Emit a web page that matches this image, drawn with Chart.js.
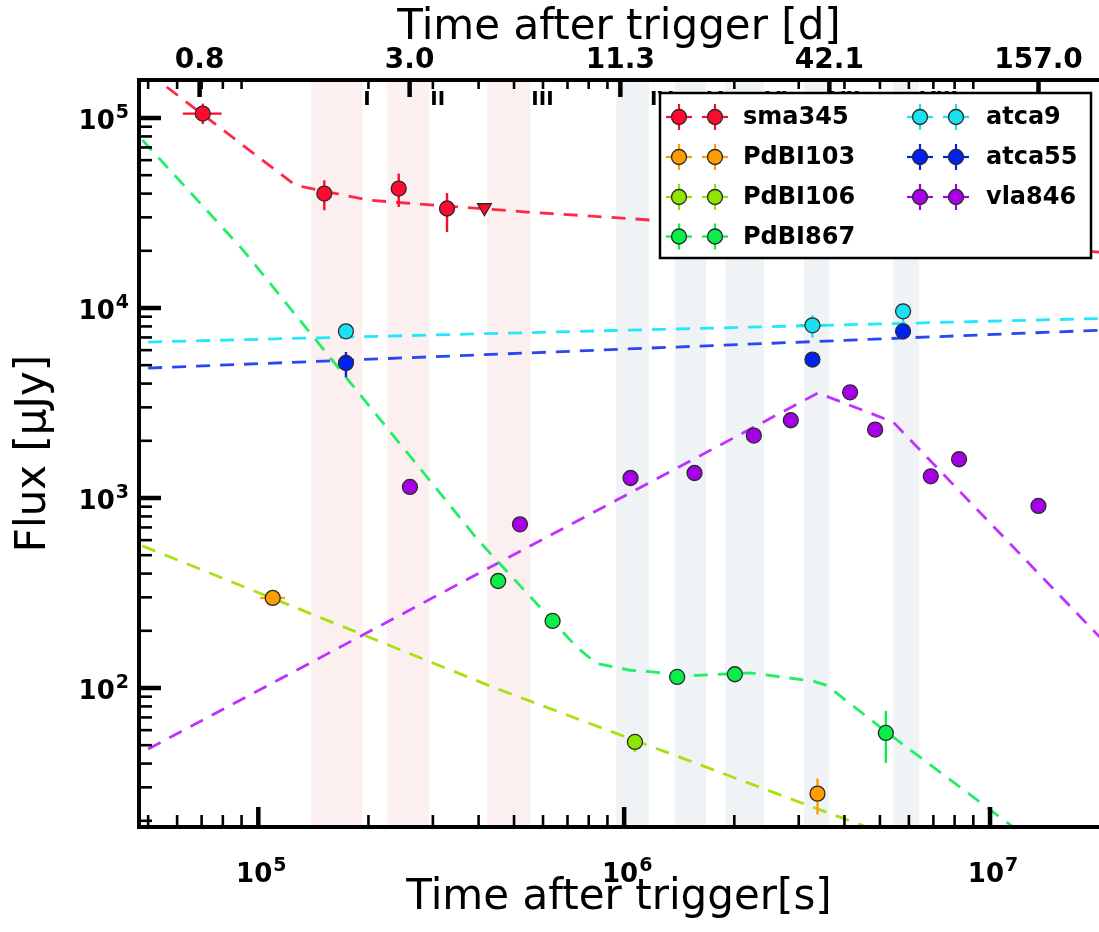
<!DOCTYPE html>
<html><head><meta charset="utf-8">
<script src="https://cdn.jsdelivr.net/npm/chart.js@4.4.1/dist/chart.umd.min.js"></script>
<style>html,body{margin:0;padding:0;background:#fff;}canvas{display:block;}</style>
</head><body>
<canvas id="c" width="1099" height="932"></canvas>
<script>
// ---------- axis ranges & ticks ----------
const X_MIN = 4.72e4, X_MAX = 1.985e7;
const Y_MIN = 18.55, Y_MAX = 1.585e5;
const xTickValues = [1e5, 1e6, 1e7];
const xTickBase = ['10', '10', '10'];
const xTickExp  = ['5', '6', '7'];
const yTickValues = [1e2, 1e3, 1e4, 1e5];
const yTickBase = ['10', '10', '10', '10'];
const yTickExp  = ['2', '3', '4', '5'];
const topTickDays = [0.8, 3.0, 11.3, 42.1, 157.0];
const topTickLabels = ['0.8', '3.0', '11.3', '42.1', '157.0'];
const minorMultipliers = [2, 3, 4, 5, 6, 7, 8, 9];
const minorDecadesX = [1e4, 1e5, 1e6, 1e7];
const minorDecadesY = [1, 10, 100, 1000, 1e4, 1e5];

// ---------- epochs (shaded bands, seconds) ----------
const pinkBandStart = [1.396e5, 2.252e5, 4.224e5];
const pinkBandEnd   = [1.924e5, 2.933e5, 5.537e5];
const grayBandStart = [9.51e5, 1.378e6, 1.888e6, 3.103e6, 5.43e6];
const grayBandEnd   = [1.170e6, 1.675e6, 2.413e6, 3.632e6, 6.40e6];
const epochLabels = ['I', 'II', 'III', 'IV', 'V', 'VI', 'VII', 'VIII'];

// ---------- series ----------
const seriesNames = ['sma345', 'PdBI103', 'PdBI106', 'PdBI867', 'atca9', 'atca55', 'vla846'];
const seriesColors = ['#ff0a2e', '#ff9d00', '#8ee600', '#0aee4a', '#1ae0f0', '#0022f0', '#a600e8'];
const modelColors  = ['#ff2848', '#ff9d00', '#a8e010', '#22ee66', '#22e8ff', '#2a48f0', '#c030ff'];

// sma345
const sma345Time = [7.05e4, 1.515e5, 2.42e5, 3.28e5];
const sma345Flux = [1.055e5, 4.0e4, 4.25e4, 3.34e4];
const sma345FluxErr = [[9.3e4, 1.19e5], [3.27e4, 4.7e4], [3.4e4, 5.1e4], [2.51e4, 4.03e4]];
const sma345TimeErr = [[6.22e4, 7.94e4], null, null, null];
const sma345LimitTime = [4.15e5];
const sma345LimitFlux = [3.37e4];
const sma345ModelTime = [5.62e4, 1.246e5, 1.327e5, 2.02e5, 5.41e5, 1.037e6, 1.98e7, 2.3e7];
const sma345ModelFlux = [1.456e5, 4.515e4, 4.334e4, 3.688e4, 3.2e4, 2.955e4, 1.97e4, 1.93e4];

// PdBI103
const pdbi103Time = [1.095e5, 3.376e6];
const pdbi103Flux = [297.7, 27.8];
const pdbi103FluxErr = [null, [21.6, 33.4]];
const pdbi103TimeErr = [[1.011e5, 1.183e5], null];

// PdBI106
const pdbi106Time = [1.07e6];
const pdbi106Flux = [52];
const pdbi106FluxErr = [[46, 57]];
const pdbi106ModelTime = [4.19e4, 1.099e5, 4.48e5, 1.07e6, 3.355e6, 5.67e6];
const pdbi106ModelFlux = [624, 295.4, 99.3, 53, 23.2, 16.0];

// PdBI867
const pdbi867Time = [4.525e5, 6.373e5, 1.396e6, 2.007e6, 5.19e6];
const pdbi867Flux = [365.8, 225.3, 114.3, 118.1, 58.0];
const pdbi867FluxErr = [null, null, null, null, [40.3, 75.7]];
const pdbi867ModelTime = [3.93e4, 9.1e4, 1.936e5, 3.992e5, 6.373e5, 7.413e5, 8.405e5, 1.037e6, 1.577e6, 2.205e6, 3.283e6, 3.573e6, 5.21e6, 1.063e7, 1.367e7];
const pdbi867ModelFlux = [1.178e5, 2.012e4, 3336, 599, 225.3, 164.4, 134.4, 124, 116.6, 120, 108.8, 103.3, 58.7, 20.95, 14.6];

// atca9
const atca9Time = [1.736e5, 3.27e6, 5.785e6];
const atca9Flux = [7541, 8109, 9607];
const atca9FluxErr = [null, [6986, 9155], [8440, 10540]];
const atca9TimeErr = [null, [3.016e6, 3.568e6], null];
const atca9ModelTime = [5.0e4, 2.262e7];
const atca9ModelFlux = [6620, 8859];

// atca55
const atca55Time = [1.736e5, 3.27e6, 5.785e6];
const atca55Flux = [5134, 5350, 7541];
const atca55FluxErr = [[4334, 5866], [4893, 5850], [6900, 8280]];
const atca55ModelTime = [5.0e4, 2.262e7];
const atca55ModelFlux = [4829, 7716];

// vla846
const vla846Time = [2.597e5, 5.19e5, 1.041e6, 1.557e6, 2.261e6, 2.854e6, 4.145e6, 4.852e6, 6.887e6, 8.228e6, 1.356e7];
const vla846Flux = [1143, 727, 1274, 1354, 2130, 2565, 3600, 2291, 1301, 1599, 908];
const vla846ModelTime = [5.0e4, 3.388e6, 5.433e6, 1.953e7, 2.26e7];
const vla846ModelFlux = [47.7, 3570, 2512, 193.3, 144];

// ---------- helpers ----------
const FONT = "'DejaVu Sans', 'Liberation Sans', sans-serif";
const pts = (xs, ys) => xs.map((x, i) => ({x: x, y: ys[i]}));

function pointSet(idx, xs, ys, errY, errX) {
  return {
    label: seriesNames[idx], data: pts(xs, ys), showLine: false,
    backgroundColor: seriesColors[idx], borderColor: '#2a2a2a', borderWidth: 1.3,
    pointRadius: 7.5, pointHoverRadius: 7.5, order: 1,
    errY: errY || null, errX: errX || null, errColor: seriesColors[idx]
  };
}
function modelSet(idx, xs, ys) {
  return {
    label: seriesNames[idx] + ' model', data: pts(xs, ys), showLine: true,
    borderColor: modelColors[idx], borderWidth: 2.8, borderDash: [14, 10],
    pointRadius: 0, pointHoverRadius: 0, fill: false, tension: 0, order: 3
  };
}

const datasets = [
  pointSet(0, sma345Time, sma345Flux, sma345FluxErr, sma345TimeErr),
  Object.assign(pointSet(0, sma345LimitTime, sma345LimitFlux), {pointStyle: 'triangle', rotation: 180, pointRadius: 8}),
  pointSet(1, pdbi103Time, pdbi103Flux, pdbi103FluxErr, pdbi103TimeErr),
  pointSet(2, pdbi106Time, pdbi106Flux, pdbi106FluxErr),
  pointSet(3, pdbi867Time, pdbi867Flux, pdbi867FluxErr),
  pointSet(4, atca9Time, atca9Flux, atca9FluxErr, atca9TimeErr),
  pointSet(5, atca55Time, atca55Flux, atca55FluxErr),
  pointSet(6, vla846Time, vla846Flux),
  modelSet(0, sma345ModelTime, sma345ModelFlux),
  modelSet(2, pdbi106ModelTime, pdbi106ModelFlux),
  modelSet(3, pdbi867ModelTime, pdbi867ModelFlux),
  modelSet(4, atca9ModelTime, atca9ModelFlux),
  modelSet(5, atca55ModelTime, atca55ModelFlux),
  modelSet(6, vla846ModelTime, vla846ModelFlux)
];

function line(ctx, x1, y1, x2, y2) { ctx.beginPath(); ctx.moveTo(x1, y1); ctx.lineTo(x2, y2); ctx.stroke(); }

function minorValues(decades) {
  const out = [];
  decades.forEach(d => minorMultipliers.forEach(m => out.push(m * d)));
  return out;
}

const BASE_FONT = 'bold 26px ' + FONT;
const EXP_FONT = 'bold 19px ' + FONT;
// draws "10" with a raised exponent; anchor: 'right' (x = right edge) or 'center'
function drawPower(ctx, base, exp, x, baselineY, anchor) {
  ctx.font = BASE_FONT; const wb = ctx.measureText(base).width;
  ctx.font = EXP_FONT; const we = ctx.measureText(exp).width;
  const total = wb + 1 + we;
  const x0 = anchor === 'right' ? x - total : x - total / 2;
  ctx.textAlign = 'left'; ctx.textBaseline = 'alphabetic';
  ctx.font = BASE_FONT; ctx.fillText(base, x0, baselineY);
  ctx.font = EXP_FONT; ctx.fillText(exp, x0 + wb + 1, baselineY - 11);
}

const framePlugin = {
  id: 'frame',
  beforeDatasetsDraw(chart) {
    const {ctx, chartArea: a} = chart;
    const xs = chart.scales.x;
    ctx.save();
    ctx.fillStyle = '#fcefef';
    pinkBandStart.forEach((s, i) => {
      const p1 = xs.getPixelForValue(s), p2 = xs.getPixelForValue(pinkBandEnd[i]);
      ctx.fillRect(p1, a.top, p2 - p1, a.bottom - a.top);
    });
    ctx.fillStyle = '#eff3f5';
    grayBandStart.forEach((s, i) => {
      const p1 = xs.getPixelForValue(s), p2 = xs.getPixelForValue(grayBandEnd[i]);
      ctx.fillRect(p1, a.top, p2 - p1, a.bottom - a.top);
    });
    ctx.restore();
  },
  beforeDatasetDraw(chart, args) {
    const ds = chart.data.datasets[args.index];
    if (!ds.errY && !ds.errX) return;
    const {ctx, chartArea: a} = chart;
    const xs = chart.scales.x, ys = chart.scales.y;
    ctx.save();
    ctx.beginPath(); ctx.rect(a.left, a.top, a.right - a.left, a.bottom - a.top); ctx.clip();
    ctx.strokeStyle = ds.errColor; ctx.lineWidth = 2.4;
    ds.data.forEach((p, i) => {
      const px = xs.getPixelForValue(p.x), py = ys.getPixelForValue(p.y);
      const ey = ds.errY && ds.errY[i];
      if (ey) line(ctx, px, ys.getPixelForValue(ey[0]), px, ys.getPixelForValue(ey[1]));
      const ex = ds.errX && ds.errX[i];
      if (ex) line(ctx, xs.getPixelForValue(ex[0]), py, xs.getPixelForValue(ex[1]), py);
    });
    ctx.restore();
  },
  afterDatasetsDraw(chart) {
    const {ctx, chartArea: a} = chart;
    const xs = chart.scales.x, ys = chart.scales.y;
    ctx.save();
    ctx.strokeStyle = '#000';
    ctx.lineCap = 'butt';
    const inX = v => v >= X_MIN && v <= X_MAX;
    const inY = v => v >= Y_MIN && v <= Y_MAX;
    // bottom ticks
    ctx.lineWidth = 4.5;
    xTickValues.filter(inX).forEach(v => { const p = xs.getPixelForValue(v); line(ctx, p, a.bottom, p, a.bottom - 20); });
    ctx.lineWidth = 2.6;
    minorValues(minorDecadesX).filter(inX).forEach(v => { const p = xs.getPixelForValue(v); line(ctx, p, a.bottom, p, a.bottom - 12); });
    // top ticks (day axis)
    ctx.lineWidth = 4.5;
    topTickDays.map(d => d * 86400).filter(inX).forEach(v => { const p = xs.getPixelForValue(v); line(ctx, p, a.top, p, a.top + 17); });
    ctx.lineWidth = 2.6;
    minorValues(minorDecadesX).filter(inX).forEach(v => { const p = xs.getPixelForValue(v); line(ctx, p, a.top, p, a.top + 9); });
    // left ticks
    ctx.lineWidth = 4.5;
    yTickValues.filter(inY).forEach(v => { const p = ys.getPixelForValue(v); line(ctx, a.left, p, a.left + 22, p); });
    ctx.lineWidth = 2.6;
    minorValues(minorDecadesY).filter(inY).forEach(v => { const p = ys.getPixelForValue(v); line(ctx, a.left, p, a.left + 13, p); });
    // spines
    ctx.lineWidth = 4;
    ctx.lineCap = 'square';
    line(ctx, a.left, a.top, a.right + 5, a.top);
    line(ctx, a.left, a.top, a.left, a.bottom);
    line(ctx, a.left, a.bottom, a.right + 5, a.bottom);
    // tick labels (power-of-ten)
    ctx.fillStyle = '#000';
    xTickValues.forEach((v, i) => drawPower(ctx, xTickBase[i], xTickExp[i], xs.getPixelForValue(v) + 3, a.bottom + 55, 'center'));
    yTickValues.forEach((v, i) => drawPower(ctx, yTickBase[i], yTickExp[i], a.left - 10, ys.getPixelForValue(v) + 11, 'right'));
    // epoch labels
    ctx.font = 'bold 20px ' + FONT;
    ctx.textAlign = 'left'; ctx.textBaseline = 'alphabetic';
    const ends = pinkBandEnd.concat(grayBandEnd);
    epochLabels.forEach((t, i) => { ctx.fillText(t, xs.getPixelForValue(ends[i]) + 1, a.top + 25); });
    ctx.restore();
  },
  afterDraw(chart) {
    const {ctx} = chart;
    ctx.save();
    const bx = 660, by = 93, bw = 431, bh = 165;
    ctx.fillStyle = '#fff';
    ctx.fillRect(bx, by, bw, bh);
    ctx.strokeStyle = '#000'; ctx.lineWidth = 2.5;
    ctx.strokeRect(bx, by, bw, bh);
    const cols = [{m1: 679, m2: 715, tx: 743}, {m1: 920, m2: 956, tx: 986}];
    const rowY = [117, 157, 197, 236.5];
    ctx.font = 'bold 24px ' + FONT;
    ctx.textBaseline = 'middle'; ctx.textAlign = 'left';
    seriesNames.forEach((name, i) => {
      const c = cols[i < 4 ? 0 : 1];
      const y = rowY[i < 4 ? i : i - 4];
      [c.m1, c.m2].forEach(mx => {
        ctx.strokeStyle = seriesColors[i]; ctx.lineWidth = 2.2;
        line(ctx, mx - 13, y, mx + 13, y);
        line(ctx, mx, y - 13, mx, y + 13);
        ctx.beginPath(); ctx.arc(mx, y, 7.5, 0, Math.PI * 2);
        ctx.fillStyle = seriesColors[i]; ctx.fill();
        ctx.strokeStyle = '#2a2a2a'; ctx.lineWidth = 1.3; ctx.stroke();
      });
      ctx.fillStyle = '#000';
      ctx.fillText(name, c.tx, y + 1);
    });
    ctx.restore();
  }
};

new Chart(document.getElementById('c'), {
  type: 'scatter',
  data: {datasets: datasets},
  options: {
    responsive: false, animation: false, devicePixelRatio: 1,
    layout: {padding: 0, autoPadding: false},
    plugins: {legend: {display: false}, tooltip: {enabled: false}},
    scales: {
      x: {
        type: 'logarithmic', position: 'bottom', min: X_MIN, max: X_MAX,
        grid: {display: false, drawTicks: false}, border: {display: false},
        ticks: {display: false},
        title: {display: true, text: 'Time after trigger[s]', color: '#000',
                font: {family: FONT, size: 42}, padding: {top: 0, bottom: 9}},
        afterBuildTicks: s => { s.ticks = xTickValues.map(v => ({value: v})); },
        afterFit: s => { s.height = 105; s.paddingLeft = 0; s.paddingRight = 0; }
      },
      x2: {
        type: 'logarithmic', position: 'top', min: X_MIN, max: X_MAX,
        grid: {display: false, drawTicks: false}, border: {display: false},
        ticks: {font: {family: FONT, size: 28, weight: 'bold'}, color: '#000', padding: 2, maxRotation: 0, autoSkip: false,
                callback: (v, i) => topTickLabels[i]},
        title: {display: true, text: 'Time after trigger [d]', color: '#000',
                font: {family: FONT, size: 42}, padding: {top: 3, bottom: 0}},
        afterBuildTicks: s => { s.ticks = topTickDays.map(d => ({value: d * 86400})); },
        afterFit: s => { s.height = 80; s.paddingLeft = 0; s.paddingRight = 0; }
      },
      y: {
        type: 'logarithmic', position: 'left', min: Y_MIN, max: Y_MAX,
        grid: {display: false, drawTicks: false}, border: {display: false},
        ticks: {display: false},
        title: {display: true, text: 'Flux [μJy]', color: '#000',
                font: {family: FONT, size: 42}, padding: {top: 9, bottom: 0}},
        afterBuildTicks: s => { s.ticks = yTickValues.map(v => ({value: v})); },
        afterFit: s => { s.width = 139; s.paddingTop = 0; s.paddingBottom = 0; }
      }
    }
  },
  plugins: [framePlugin]
});
</script>
</body></html>
